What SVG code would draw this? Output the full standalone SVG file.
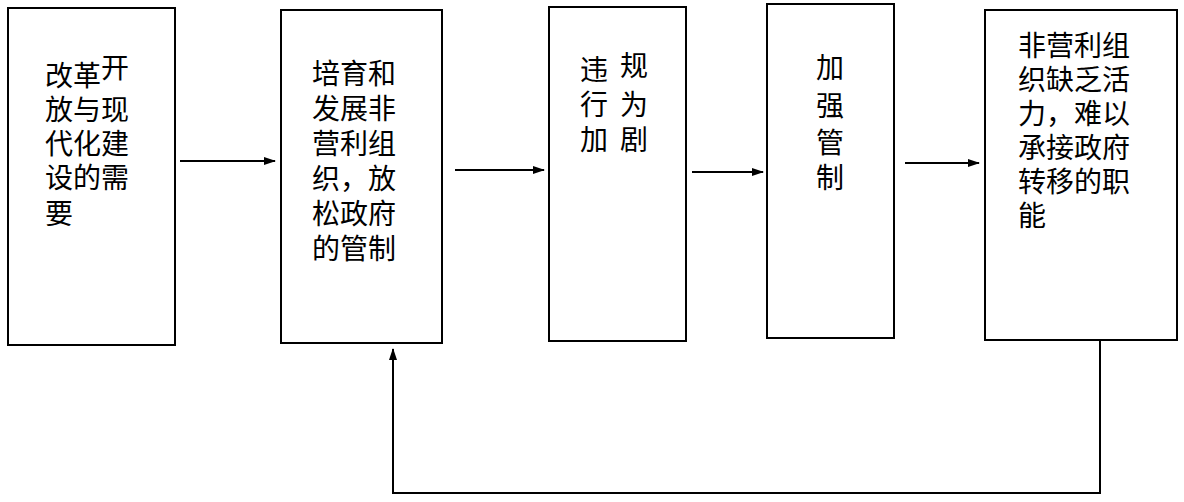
<svg xmlns="http://www.w3.org/2000/svg" width="1184" height="502" viewBox="0 0 1184 502">
<defs>
<marker id="ah" markerWidth="12" markerHeight="8" refX="11" refY="4" orient="auto" markerUnits="userSpaceOnUse"><path d="M0,0 L12,4 L0,8 Z" fill="#000"/></marker>
<style>
.b{fill:#fff;stroke:#000;stroke-width:2}
.t{font-family:"Noto Sans CJK SC","Noto Sans CJK JP",sans-serif;font-size:28px;fill:#000}
.c{fill:none;stroke:#000;stroke-width:2}
</style>
</defs>
<rect width="1184" height="502" fill="#fff"/>
<g id="n1"><rect class="b" x="8" y="8" width="167" height="337"/>
<text class="t" x="45" y="86">改革<tspan dy="-8">开</tspan></text>
<text class="t" x="45" y="120">放与现</text>
<text class="t" x="45" y="154">代化建</text>
<text class="t" x="45" y="188">设的需</text>
<text class="t" x="45" y="224">要</text></g>
<g id="n2"><rect class="b" x="281" y="10" width="161" height="333"/>
<text class="t" x="312" y="84">培育和</text>
<text class="t" x="312" y="119">发展非</text>
<text class="t" x="312" y="154">营利组</text>
<text class="t" x="312" y="189">织，放</text>
<text class="t" x="312" y="224">松政府</text>
<text class="t" x="312" y="259">的管制</text></g>
<g id="n3"><rect class="b" x="549" y="7" width="137" height="334"/>
<text class="t" x="580" y="80">违</text><text class="t" x="620" y="76">规</text>
<text class="t" x="580" y="115">行</text><text class="t" x="620" y="115">为</text>
<text class="t" x="580" y="150">加</text><text class="t" x="620" y="150">剧</text></g>
<g id="n4"><rect class="b" x="767" y="4" width="127" height="334"/>
<text class="t" x="816" y="78">加</text>
<text class="t" x="816" y="116">强</text>
<text class="t" x="816" y="153">管</text>
<text class="t" x="816" y="188">制</text></g>
<g id="n5"><rect class="b" x="985" y="10" width="192" height="330"/>
<text class="t" x="1018" y="56">非营利组</text>
<text class="t" x="1018" y="90">织缺乏活</text>
<text class="t" x="1018" y="124">力，难以</text>
<text class="t" x="1018" y="158">承接政府</text>
<text class="t" x="1018" y="192">转移的职</text>
<text class="t" x="1018" y="226">能</text></g>
<g id="connectors">
<line class="c" x1="180" y1="161" x2="275" y2="161" marker-end="url(#ah)"/>
<line class="c" x1="455" y1="170" x2="544" y2="170" marker-end="url(#ah)"/>
<line class="c" x1="692" y1="172" x2="763" y2="172" marker-end="url(#ah)"/>
<line class="c" x1="905" y1="163" x2="979" y2="163" marker-end="url(#ah)"/>
<polyline class="c" points="1100,340 1100,493 393,493 393,349" marker-end="url(#ah)"/>
</g>
</svg>
